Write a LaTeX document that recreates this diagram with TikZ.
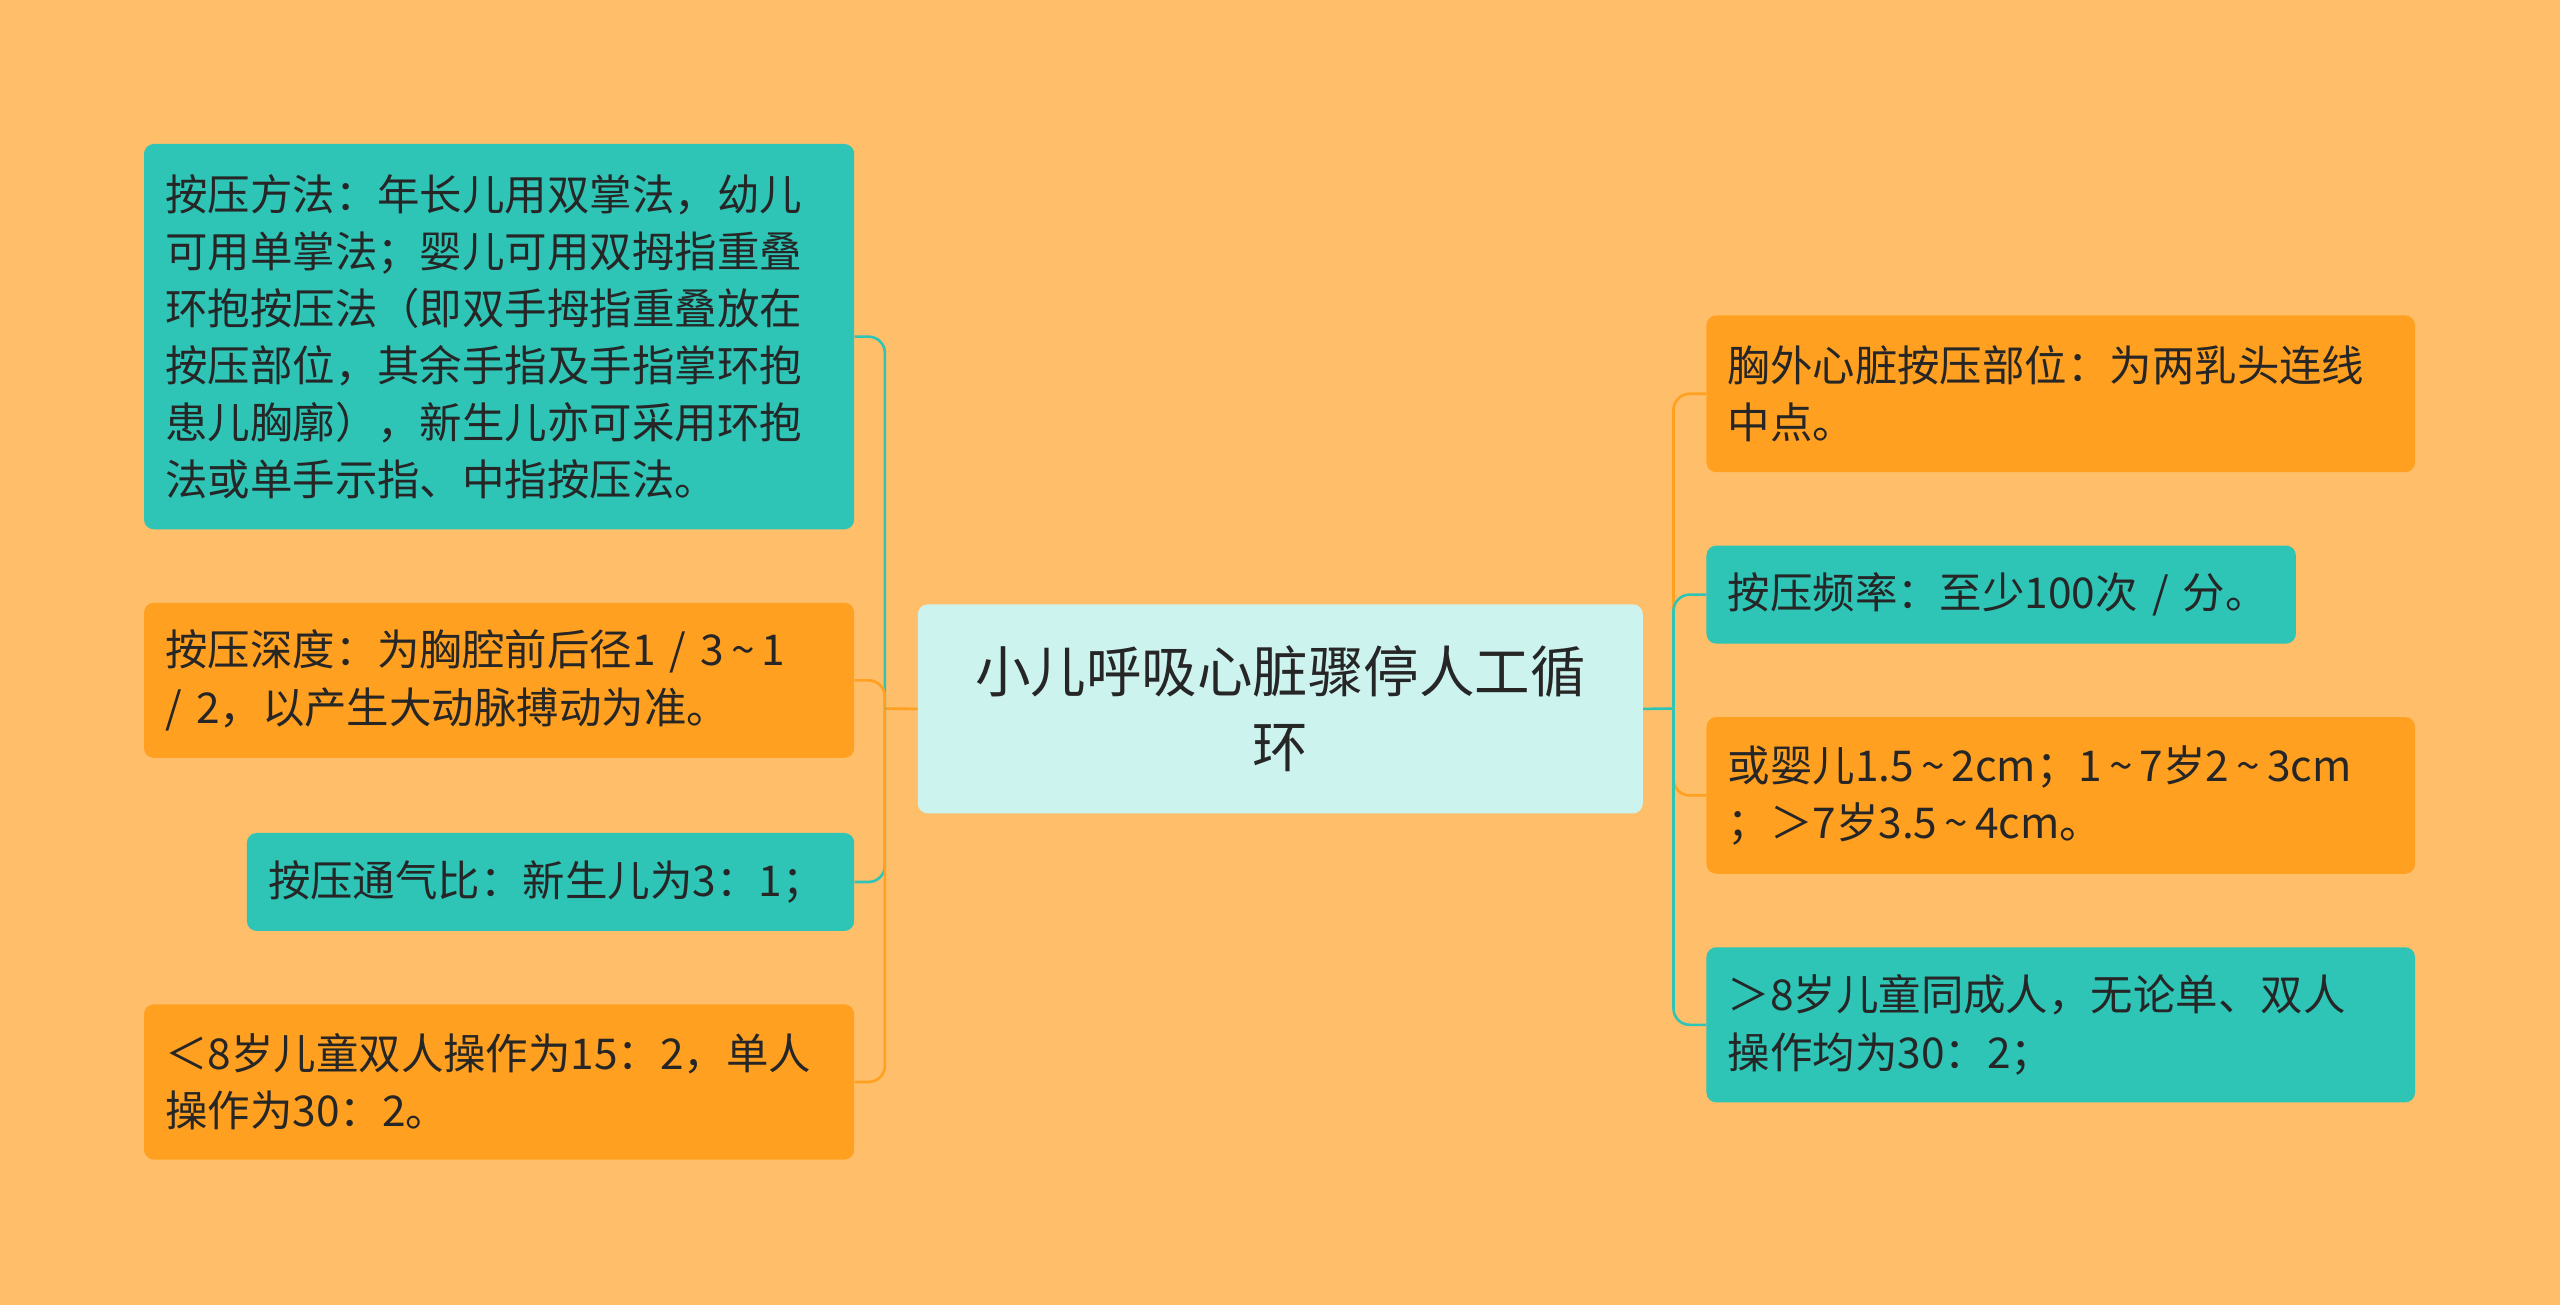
\documentclass[tikz,border=0pt]{standalone}
\usepackage{fontspec}
\setmainfont{Noto Sans CJK SC}
\newcommand{\tl}{\,{\char`\~}\,}
\begin{document}
\begin{tikzpicture}[x=1pt,y=-1pt,
 box/.style={rounded corners=6pt,anchor=north west,inner xsep=13pt,inner ysep=0pt,align=left,font=\fontsize{26}{35}\selectfont,text=black!85},
 teal/.style={box,fill=tealc},
 orng/.style={box,fill=orngc},
 lt/.style={draw=tealc,line width=1.6pt,rounded corners=10pt},
 lo/.style={draw=orngc,line width=1.6pt,rounded corners=10pt}]
\definecolor{bg}{HTML}{FFBE6A}
\definecolor{tealc}{HTML}{2EC4B6}
\definecolor{orngc}{HTML}{FFA020}
\definecolor{cen}{HTML}{CDF3EF}
\fill[bg] (0,0) rectangle (1568,799);
\useasboundingbox (0,0) rectangle (1568,799);
\node[box,fill=cen,minimum width=444pt,minimum height=128pt,align=center,inner xsep=20pt,font=\fontsize{34}{46}\selectfont] (c) at (562,370) {小儿呼吸心脏骤停人工循\\环};
\node[teal,text width=409pt,minimum height=236pt] (l1) at (88,88) {按压方法：年长儿用双掌法，幼儿\\可用单掌法；婴儿可用双拇指重叠\\环抱按压法（即双手拇指重叠放在\\按压部位，其余手指及手指掌环抱\\患儿胸廓），新生儿亦可采用环抱\\法或单手示指、中指按压法。};
\node[orng,text width=409pt,minimum height=95pt] (l2) at (88,369) {按压深度：为胸腔前后径1 / 3\tl 1\\ / 2，以产生大动脉搏动为准。};
\node[teal,text width=346pt,minimum height=60pt] (l3) at (151,510) {按压通气比：新生儿为3：1；};
\node[orng,text width=409pt,minimum height=95pt] (l4) at (88,615) {＜8岁儿童双人操作为15：2，单人\\操作为30：2。};
\node[orng,text width=408pt,minimum height=96pt] (r1) at (1045,193) {胸外心脏按压部位：为两乳头连线\\中点。};
\node[teal,text width=335pt,minimum height=60pt] (r2) at (1045,334) {按压频率：至少100次 / 分。};
\node[orng,text width=408pt,minimum height=96pt] (r3) at (1045,439) {\makebox[408pt][l]{或婴儿1.5\tl 2cm；1\tl 7岁2\tl 3cm}\\；＞7岁3.5\tl 4cm。};
\node[teal,text width=408pt,minimum height=95pt] (r4) at (1045,580) {＞8岁儿童同成人，无论单、双人\\操作均为30：2；};
\coordinate (lj) at (542,434);
\coordinate (rj) at (1025,434);
\draw[lo] (c.west) -- (lj);
\draw[lt] (c.east) -- (rj);
\draw[lt] (lj) |- (l1.east);
\draw[lo] (lj) |- (l2.east);
\draw[lt] (lj) |- (l3.east);
\draw[lo] (lj) |- (l4.east);
\draw[lo] (rj) |- (r1.west);
\draw[lt] (rj) |- (r2.west);
\draw[lo] (rj) |- (r3.west);
\draw[lt] (rj) |- (r4.west);
\end{tikzpicture}
\end{document}
